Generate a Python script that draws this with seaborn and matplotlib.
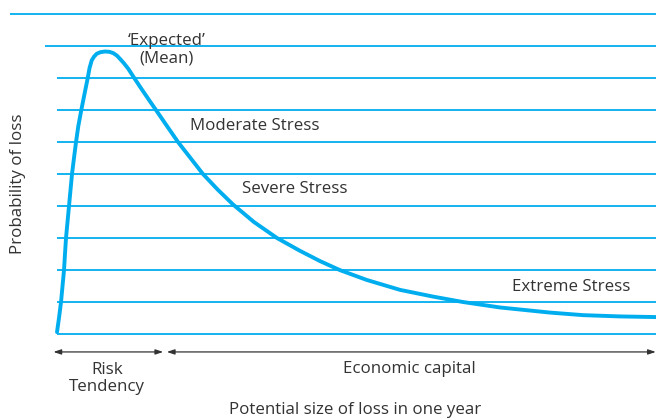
import matplotlib
matplotlib.use("Agg")
import matplotlib.pyplot as plt
import pandas as pd
import seaborn as sns

sns.set_style("white")
plt.rcParams['font.family'] = ['Open Sans', 'DejaVu Sans']

# loss-distribution curve (x: size of loss, y: probability, grid units)
loss_size = [0.0, 0.33, 0.67, 0.92, 1.17, 1.33, 1.5, 1.75, 2.0, 2.25, 2.5, 2.83, 3.17,
             3.55, 4.05, 4.58, 5.12, 5.42, 5.78, 6.17, 6.62, 7.25, 8.0, 8.75, 9.38,
             10.0, 10.5, 11.17, 11.88, 12.88, 14.12, 15.5, 16.5, 18.33, 20.17, 22.25,
             24.33, 26.75, 29.33, 32.83, 36.67, 40.5, 43.83, 47.12, 51.62, 57.17,
             62.67, 67.67, 73.83, 82.17, 87.67, 93.83, 99.83]
probability = [0.06, 0.5, 1.0, 1.5, 2.0, 2.5, 3.0, 3.5, 4.0, 4.5, 5.0, 5.5, 6.0,
               6.5, 7.0, 7.5, 8.0, 8.31, 8.55, 8.67, 8.76, 8.81, 8.83, 8.82, 8.78,
               8.70, 8.6, 8.46, 8.29, 8.0, 7.65, 7.27, 7.0, 6.5, 6.0, 5.5,
               5.0, 4.52, 4.05, 3.5, 3.0, 2.6, 2.28, 2.0, 1.69, 1.38,
               1.17, 1.0, 0.83, 0.67, 0.59, 0.55, 0.53]
grid_levels = [0, 1, 2, 3, 4, 5, 6, 7, 8, 9, 10]
grid_starts = [0, 0, 0, 0, 0, 0, 0, 0, 0, -2.0, -7.8]

labels = ["\u2018Expected\u2019\n(Mean)", "Moderate Stress", "Severe Stress", "Extreme Stress"]
label_x = [18.3, 22.2, 30.8, 75.8]
label_y = [8.88, 6.5, 4.53, 1.47]

CYAN = "#00aeef"
INK = "#333333"
FS = 12.2

df = pd.DataFrame({"size": loss_size, "prob": probability})

fig = plt.figure(figsize=(6.56, 4.19), dpi=100)
ax = fig.add_axes([0, 0, 1, 1])
ax.set_xlim(-9.5, 99.83)
ax.set_ylim(-2.656, 10.44)
ax.axis("off")

ax.hlines(grid_levels, grid_starts, 99.83, color=CYAN, lw=1.3)
sns.lineplot(data=df, x="size", y="prob", ax=ax, color=CYAN, lw=2.8,
             sort=False, estimator=None, solid_joinstyle="round")

ax.text(label_x[0], label_y[0], labels[0], ha="center", va="center",
        fontsize=FS, color=INK, linespacing=1.15)
for lab, x, y in zip(labels[1:], label_x[1:], label_y[1:]):
    ax.text(x, y, lab, ha="left", va="center", fontsize=FS, color=INK)

ax.text(-6.5, 4.7, "Probability of loss", rotation=90, ha="center", va="center",
        fontsize=FS, color=INK)

# brackets under the curve
arrow = dict(arrowstyle="<|-|>,head_length=0.45,head_width=0.15", color=INK, lw=0.9,
             shrinkA=0, shrinkB=0)
ax.annotate("", xy=(-0.6, -0.56), xytext=(17.7, -0.56), arrowprops=arrow)
ax.annotate("", xy=(18.3, -0.56), xytext=(99.8, -0.56), arrowprops=arrow)
ax.text(8.3, -1.39, "Risk\nTendency", ha="center", va="center", fontsize=FS,
        color=INK, linespacing=1.05)
ax.text(58.8, -1.09, "Economic capital", ha="center", va="center", fontsize=FS, color=INK)
ax.text(49.7, -2.37, "Potential size of loss in one year", ha="center", va="center",
        fontsize=FS, color=INK)

fig.savefig("out.png", dpi=100)
